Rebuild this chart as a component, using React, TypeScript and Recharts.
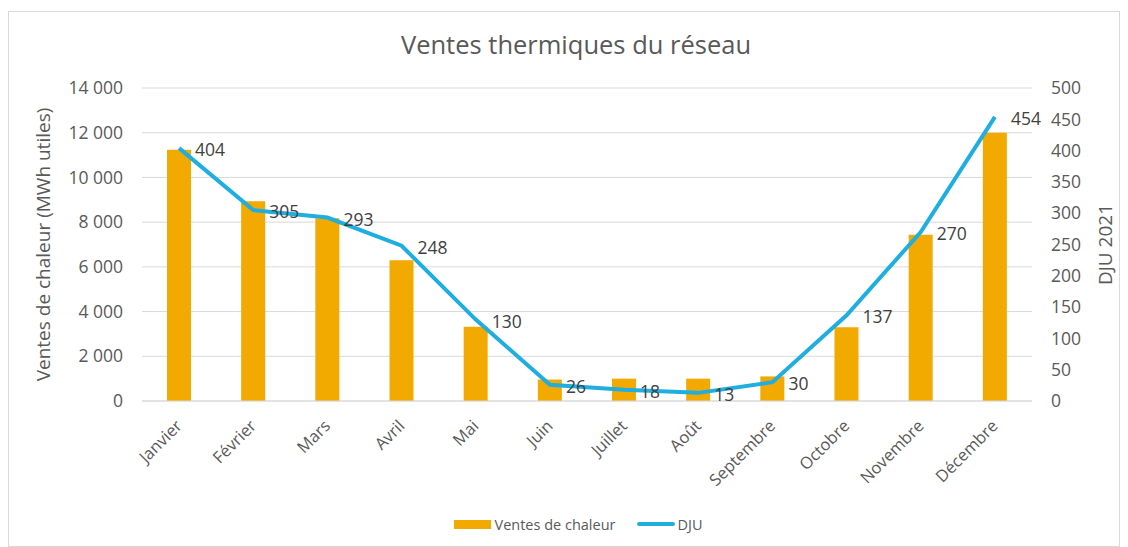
import { Bar, CartesianGrid, ComposedChart, LabelList, Legend, Line, XAxis, YAxis } from "recharts";

const months = [
  "Janvier", "Février", "Mars", "Avril", "Mai", "Juin",
  "Juillet", "Août", "Septembre", "Octobre", "Novembre", "Décembre",
];
const ventesChaleur = [11240, 8930, 8170, 6300, 3320, 960, 1000, 1000, 1100, 3300, 7440, 12000];
const dju = [404, 305, 293, 248, 130, 26, 18, 13, 30, 137, 270, 454];
const leftTicks = [0, 2000, 4000, 6000, 8000, 10000, 12000, 14000];
const rightTicks = [0, 50, 100, 150, 200, 250, 300, 350, 400, 450, 500];

const ORANGE = "#F2A900";
const BLUE = "#1FAEDF";
const GRID = "#D9D9D9";
const TEXT = "#595959";
const FONT = "'Open Sans', sans-serif";

const rows = months.map((month, i) => ({ month, ventes: ventesChaleur[i], dju: dju[i] }));

const fmtThousands = (v: number) =>
  String(v).replace(/\B(?=(\d{3})+(?!\d))/g, " ");

function MonthTick({ x, y, payload }: any) {
  return (
    <text
      x={x + 4}
      y={y + 18}
      transform={`rotate(-45, ${x + 4}, ${y + 18})`}
      textAnchor="end"
      fill={TEXT}
      fontSize={16.5}
      fontFamily={FONT}
    >
      {payload.value}
    </text>
  );
}

function AxisTitle({ viewBox, value, dx }: any) {
  const cx = viewBox.x + dx;
  const cy = viewBox.y + viewBox.height / 2;
  return (
    <text
      x={cx}
      y={cy}
      transform={`rotate(-90, ${cx}, ${cy})`}
      textAnchor="middle"
      dominantBaseline="central"
      fill={TEXT}
      fontSize={19}
      fontFamily={FONT}
    >
      {value}
    </text>
  );
}

function DjuLabel({ x, y, value }: any) {
  return (
    <text
      x={x + 16}
      y={y + 1}
      dominantBaseline="central"
      fill="#404040"
      fontSize={17.5}
      fontFamily={FONT}
    >
      {value}
    </text>
  );
}

function ChartLegend() {
  return (
    <div
      style={{
        display: "flex",
        justifyContent: "center",
        alignItems: "center",
        gap: 22,
        height: 30,
        fontFamily: FONT,
        fontSize: 14.5,
        color: TEXT,
        paddingLeft: 30,
      }}
    >
      <span style={{ display: "flex", alignItems: "center", gap: 4 }}>
        <span style={{ width: 37, height: 9, background: ORANGE, display: "inline-block" }} />
        Ventes de chaleur
      </span>
      <span style={{ display: "flex", alignItems: "center", gap: 2 }}>
        <span style={{ width: 38, height: 4, borderRadius: 2, background: BLUE, display: "inline-block" }} />
        DJU
      </span>
    </div>
  );
}

export default function App() {
  return (
    <div
      style={{
        position: "absolute",
        left: 8,
        top: 11,
        width: 1110,
        height: 534,
        border: "1px solid #D9D9D9",
        background: "#fff",
      }}
    >
      <div
        style={{
          position: "absolute",
          top: 15,
          left: 0,
          width: "100%",
          textAlign: "center",
          fontFamily: FONT,
          fontSize: 25.5,
          color: TEXT,
          paddingLeft: 24,
          boxSizing: "border-box",
        }}
      >
        Ventes thermiques du réseau
      </div>
      <ComposedChart
        width={1108}
        height={532}
        data={rows}
        margin={{ top: 76, right: 20, bottom: 5, left: 20 }}
      >
        <CartesianGrid yAxisId="left" vertical={false} stroke={GRID} />
        <XAxis
          dataKey="month"
          height={108}
          axisLine={{ stroke: GRID }}
          tickLine={false}
          interval={0}
          tick={<MonthTick />}
        />
        <YAxis
          yAxisId="left"
          width={113}
          domain={[0, 14000]}
          ticks={leftTicks}
          tickFormatter={fmtThousands}
          axisLine={false}
          tickLine={false}
          tickSize={0}
          tickMargin={19}
          tick={{ fill: TEXT, fontSize: 17.5, fontFamily: FONT }}
          label={<AxisTitle value="Ventes de chaleur (MWh utiles)" dx={14} />}
        />
        <YAxis
          yAxisId="right"
          orientation="right"
          width={65}
          domain={[0, 500]}
          ticks={rightTicks}
          axisLine={false}
          tickLine={false}
          tickSize={0}
          tickMargin={19}
          tick={{ fill: TEXT, fontSize: 17.5, fontFamily: FONT, textAnchor: "start" }}
          label={<AxisTitle value="DJU 2021" dx={73} />}
        />
        <Legend verticalAlign="bottom" content={<ChartLegend />} />
        <Bar
          yAxisId="left"
          dataKey="ventes"
          name="Ventes de chaleur"
          fill={ORANGE}
          barSize={24}
          isAnimationActive={false}
        />
        <Line
          yAxisId="right"
          dataKey="dju"
          name="DJU"
          type="linear"
          stroke={BLUE}
          strokeWidth={4}
          dot={false}
          activeDot={false}
          isAnimationActive={false}
        >
          <LabelList dataKey="dju" content={<DjuLabel />} />
        </Line>
      </ComposedChart>
    </div>
  );
}
